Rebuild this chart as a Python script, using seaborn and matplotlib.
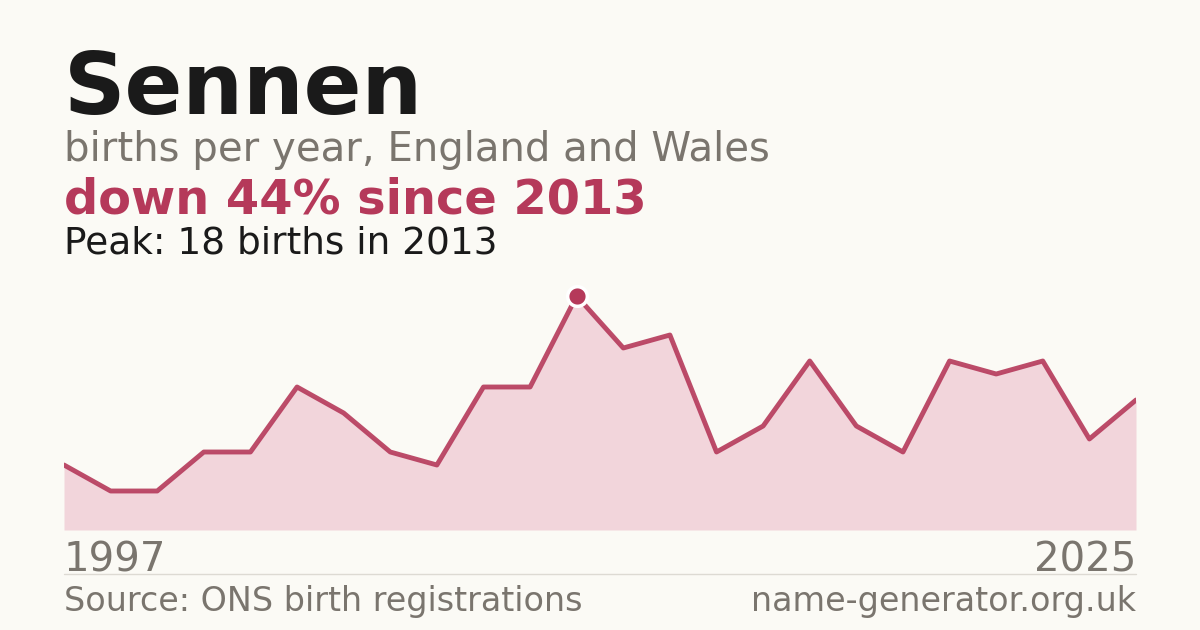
import matplotlib
matplotlib.use("Agg")
import matplotlib.pyplot as plt
import seaborn as sns
import pandas as pd

# births per year (some early years missing in the record)
years = [1997, 1998, 1999, 2001, 2003, 2005, 2006, 2008, 2009, 2011, 2012,
         2013, 2014, 2015, 2016, 2017, 2018, 2019, 2020, 2021, 2022, 2023, 2024, 2025]
births = [5, 3, 3, 6, 6, 11, 9, 6, 5, 11, 11,
          18, 14, 15, 6, 8, 13, 8, 6, 13, 12, 13, 7, 10]

df = pd.DataFrame({"year": years, "births": births})
df["pos"] = range(len(df))

bg = "#fbfaf5"
red = "#b5395a"
fill = "#f2d5db"
grey = "#7a756e"

sns.set_theme(style="white")
plt.rcParams["font.family"] = ["DejaVu Sans"]

fig = plt.figure(figsize=(12, 6.3), dpi=100, facecolor=bg)
W, H = 1200, 630
ax = fig.add_axes([64 / W, 100 / H, 1072 / W, 234 / H])
ax.set_facecolor(bg)

ax.fill_between(df["pos"], df["births"], 0, color=fill, lw=0)
sns.lineplot(data=df, x="pos", y="births", ax=ax, color=red, lw=3.5, alpha=0.9)
peak = df.loc[df["births"].idxmax()]
ax.scatter([peak["pos"]], [peak["births"]], s=200, color=red, edgecolor="white",
           linewidth=2.5, zorder=5, clip_on=False)

ax.set_xlim(0, len(df) - 1)
ax.set_ylim(0, max(births))
ax.axis("off")

def t(x, y, s, size, color, weight="normal", ha="left"):
    fig.text(x / W, 1 - y / H, s, fontsize=size, color=color, fontweight=weight,
             ha=ha, va="baseline")

t(64, 114, "Sennen", 61.5, "#1a1a1a", "bold")
t(64, 161, "births per year, England and Wales", 29, grey)
t(64, 214, "down 44% since 2013", 34.5, red, "bold")
t(64, 254, "Peak: 18 births in 2013", 27, "#1a1a1a")
t(64, 571, str(years[0]), 29, grey)
t(1136, 571, str(years[-1]), 29, grey, ha="right")
t(64, 611, "Source: ONS birth registrations", 24, grey)
t(1136, 611, "name-generator.org.uk", 24, grey, ha="right")

fig.add_artist(plt.Line2D([64 / W, 1136 / W], [1 - 574 / H, 1 - 574 / H],
                          color="#dddad3", lw=1))

fig.savefig("out.png", dpi=100, facecolor=bg)
